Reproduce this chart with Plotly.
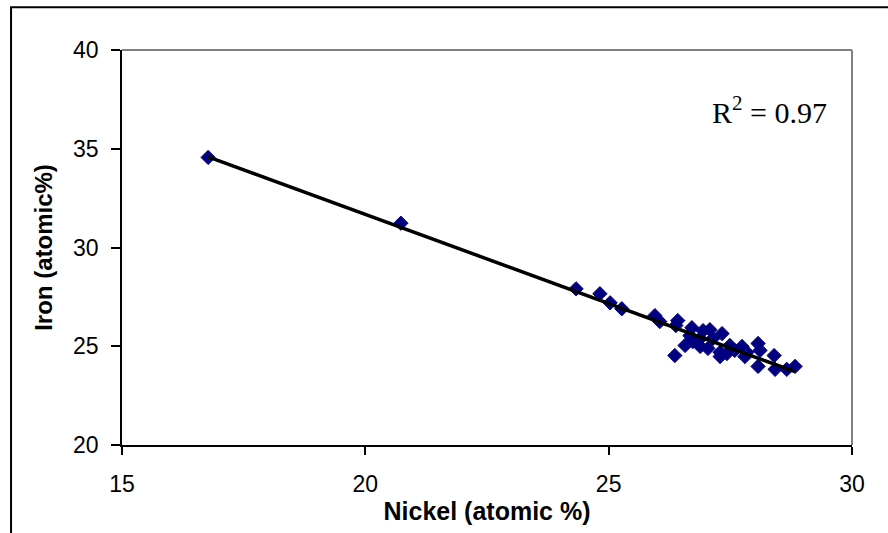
import numpy as np
import plotly.graph_objects as go

nickel = [16.77, 20.73, 24.33, 24.82, 25.03, 25.27, 25.95, 26.05, 26.42, 26.38,
          26.71, 26.94, 27.08, 27.33, 26.36, 26.57, 26.73, 26.88, 27.04, 27.29,
          27.29, 27.43, 27.59, 27.74, 27.84, 27.80, 28.07, 28.11, 28.07, 28.40,
          28.42, 28.66, 28.83, 26.88, 27.14, 26.67, 27.49]
iron = [34.56, 31.23, 27.91, 27.66, 27.20, 26.90, 26.55, 26.25, 26.30, 26.05,
        25.94, 25.79, 25.84, 25.64, 24.53, 25.04, 25.24, 24.99, 24.89, 24.69,
        24.48, 24.63, 24.79, 24.99, 24.69, 24.48, 25.14, 24.79, 23.98, 24.53,
        23.83, 23.83, 23.98, 25.39, 25.39, 25.54, 25.04]

x_ticks = [15, 20, 25, 30]
y_ticks = [20, 25, 30, 35, 40]
r2_text = "R<sup>2</sup> = 0.97"

slope, intercept = np.polyfit(nickel, iron, 1)
xl = np.array([min(nickel), max(nickel)])
yl = slope * xl + intercept

fig = go.Figure()
fig.add_trace(go.Scatter(
    x=nickel, y=iron, mode="markers",
    marker=dict(symbol="diamond", size=11, color="#000080",
                line=dict(color="#000080", width=1)),
    showlegend=False, hoverinfo="skip"))
fig.add_trace(go.Scatter(
    x=xl, y=yl, mode="lines", line=dict(color="black", width=3.5),
    showlegend=False, hoverinfo="skip"))

axis_font = dict(family="Liberation Sans, Arial", size=23, color="black")
xtitle_font = dict(family="Liberation Sans, Arial", size=25, color="black")
ytitle_font = dict(family="Liberation Sans, Arial", size=24, color="black")

fig.update_layout(
    width=888, height=533,
    margin=dict(l=122, r=36, t=50, b=86),
    paper_bgcolor="white", plot_bgcolor="white",
    xaxis=dict(range=[15, 30], tickvals=x_ticks, ticks="outside", ticklen=8,
               tickwidth=1.5, tickcolor="black", showline=True,
               linecolor="black", linewidth=1.5, showgrid=False, zeroline=False,
               tickfont=axis_font, ticklabelstandoff=10,
               title=dict(text="<b>Nickel (atomic %)</b>", font=xtitle_font,
                          standoff=6)),
    yaxis=dict(range=[20, 40], tickvals=y_ticks, ticks="outside", ticklen=9,
               tickwidth=1.5, tickcolor="black", showline=True,
               linecolor="black", linewidth=1.5, showgrid=False, zeroline=False,
               tickfont=axis_font, ticklabelstandoff=8,
               title=dict(text="<b>Iron (atomic%)</b>", font=ytitle_font,
                          standoff=14)),
    shapes=[
        dict(type="line", xref="paper", yref="paper", x0=0, x1=1, y0=1, y1=1,
             line=dict(color="#808080", width=2)),
        dict(type="line", xref="paper", yref="paper", x0=1, x1=1, y0=0, y1=1,
             line=dict(color="#808080", width=2)),
        dict(type="rect", xref="paper", yref="paper", x0=-0.152, x1=1.07,
             y0=-0.3, y1=1.108, line=dict(color="black", width=2),
             layer="below"),
    ],
    annotations=[dict(text=r2_text, xref="paper", yref="paper", x=0.968,
                      y=0.848, xanchor="right", yanchor="middle",
                      showarrow=False,
                      font=dict(family="Liberation Serif, Times New Roman",
                                size=30, color="black"))],
)

fig.write_html("out.html")
